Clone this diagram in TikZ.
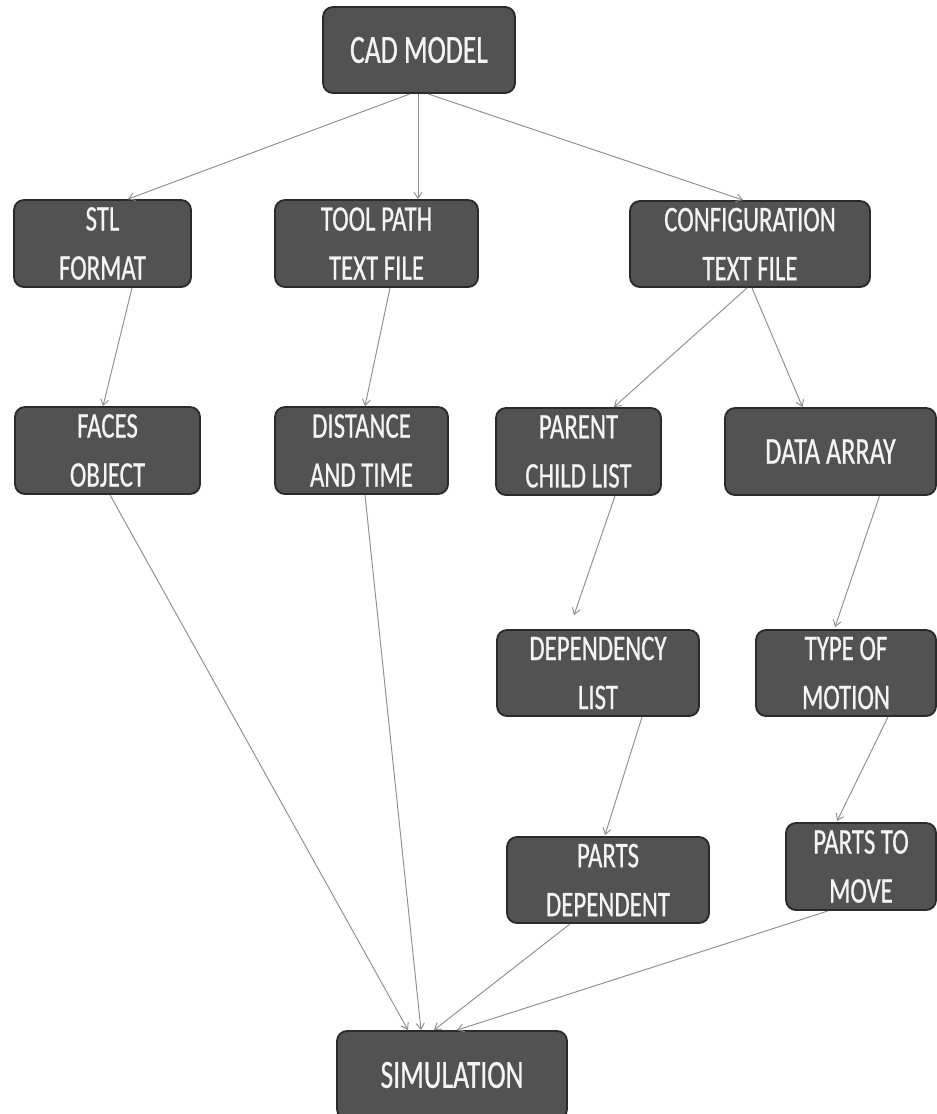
\documentclass[tikz,border=0pt]{standalone}
\usepackage{fontspec}
\newfontfamily\boxfont[FakeStretch=0.69,FakeBold=0.6]{Carlito}
\usetikzlibrary{arrows.meta,calc}
\definecolor{boxfill}{HTML}{525252}
\definecolor{boxline}{HTML}{2A2A2A}
\definecolor{boxtext}{HTML}{F4F4F4}
\definecolor{edgecol}{HTML}{8C8C8C}
\tikzset{
  box/.style={draw=boxline, line width=1.4pt, fill=boxfill, rounded corners=7.5pt,
    text=boxtext, align=center, inner sep=0pt,
    font=\boxfont\fontsize{27pt}{36.75pt}\selectfont},
  bigtext/.style={font=\boxfont\fontsize{30pt}{36pt}\selectfont},
  midtext/.style={font=\boxfont\fontsize{28.5pt}{36pt}\selectfont},
  link/.style={draw=edgecol, line width=0.7pt, -{Straight Barb[length=4.5pt,width=6pt]}}
}
\begin{document}
\begin{tikzpicture}[x=0.75pt,y=-0.75pt]
\useasboundingbox (0,0) rectangle (937,1114);
% nodes (centres in px)
\node[box,bigtext,minimum width=144pt,minimum height=64.5pt] (cad) at (419,50) {CAD MODEL};
\node[box,minimum width=132.75pt,minimum height=65.25pt] (stl) at (102.5,243.5) {STL\\FORMAT};
\node[box,minimum width=152.25pt,minimum height=65.25pt] (tool) at (376.5,243.5) {TOOL PATH\\TEXT FILE};
\node[box,minimum width=180pt,minimum height=64.5pt] (conf) at (750,244) {CONFIGURATION\\TEXT FILE};
\node[box,minimum width=138.75pt,minimum height=65.25pt] (faces) at (107.5,450.5) {FACES\\OBJECT};
\node[box,minimum width=129.75pt,minimum height=65.25pt] (dist) at (361.5,450.5) {DISTANCE\\AND TIME};
\node[box,minimum width=123.75pt,minimum height=65.25pt] (parent) at (578.5,451.5) {PARENT\\CHILD LIST};
\node[box,midtext,minimum width=158.25pt,minimum height=65.25pt] (data) at (830.5,451.5) {DATA ARRAY};
\node[box,minimum width=151.5pt,minimum height=64.5pt] (dep) at (598,673) {DEPENDENCY\\LIST};
\node[box,minimum width=135pt,minimum height=64.5pt] (type) at (846,673) {TYPE OF\\MOTION};
\node[box,minimum width=151.5pt,minimum height=64.5pt] (pdep) at (608,880) {PARTS\\DEPENDENT};
\node[box,minimum width=112.5pt,minimum height=65.25pt] (pmove) at (861,866.5) {PARTS TO\\MOVE};
\node[box,bigtext,minimum width=172.5pt,minimum height=66pt] (sim) at (452,1075) {SIMULATION};
% connectors
\draw[link] ($(cad.south)+(-9,0)$) -- ($(stl.north)+(25.5,0)$);
\draw[link] ($(cad.south)+(-1,0)$) -- ($(tool.north)+(41.5,0)$);
\draw[link] ($(cad.south)+(9,0)$) -- ($(conf.north)+(-7,0)$);
\draw[link] ($(stl.south)+(29.5,0)$) -- ($(faces.north)+(-4.5,0)$);
\draw[link] ($(tool.south)+(13.5,0)$) -- ($(dist.north)+(3.5,0)$);
\draw[link] ($(conf.south)+(-3,0)$) -- ($(parent.north)+(35.5,0)$);
\draw[link] ($(conf.south)+(2,0)$) -- ($(data.north)+(-28,0)$);
\draw[link] ($(parent.south)+(36.5,0)$) -- ($(dep.north)+(-24,-14)$);
\draw[link] ($(data.south)+(49,0)$) -- ($(type.north)+(-11,-2)$);
\draw[link] ($(dep.south)+(44,0)$) -- ($(pdep.north)+(-3,-1)$);
\draw[link] ($(type.south)+(42,0)$) -- ($(pmove.north)+(-24,-1)$);
\draw[link] ($(faces.south)+(2.5,0)$) -- ($(sim.north)+(-44,0)$);
\draw[link] ($(dist.south)+(3.5,0)$) -- ($(sim.north)+(-31,0)$);
\draw[link] ($(pdep.south)+(-38,0)$) -- ($(sim.north)+(-18,0)$);
\draw[link] ($(pmove.south)+(-33,0)$) -- ($(sim.north)+(5,0)$);
\end{tikzpicture}
\end{document}
